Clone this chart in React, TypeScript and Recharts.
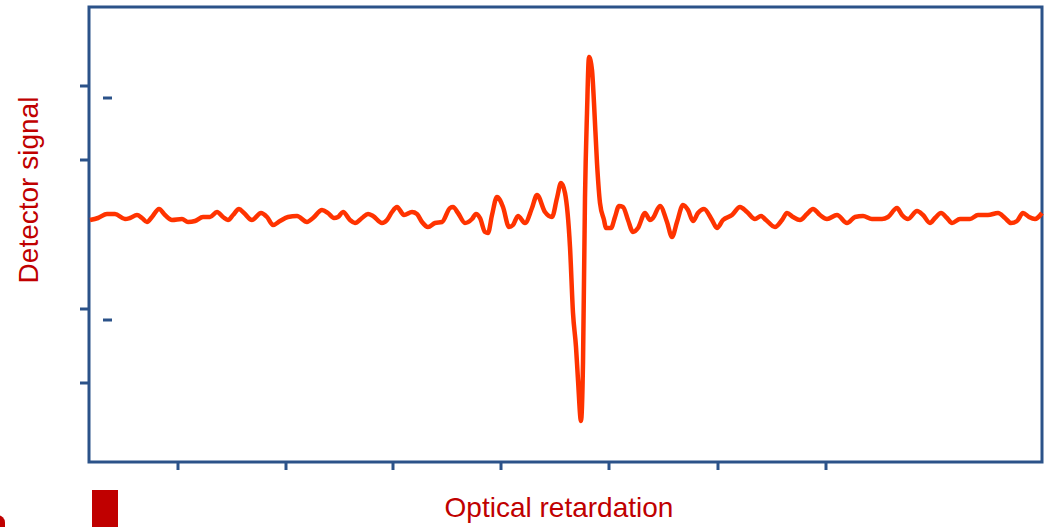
import React from "react";
import {
  LineChart,
  Line,
  XAxis,
  YAxis,
  ReferenceArea,
  ReferenceLine,
} from "recharts";

// interferogram trace (arbitrary units)
const retardation = [
  1, 9, 18, 26, 36, 41, 48, 53, 58, 63, 70, 76, 83, 93, 99, 106, 114, 121, 128, 134,
  139, 144, 150, 155, 163, 172, 178, 184, 191, 199, 208, 218, 224, 233, 239, 245, 249, 254, 261, 266,
  273, 279, 284, 293, 298, 303, 308, 315, 323, 328, 333, 339, 346, 353, 361, 364, 369, 376, 383, 387,
  391, 396, 399, 403, 408, 414, 420, 424, 429, 436, 443, 448, 456, 463, 468, 472, 476, 481, 484, 487,
  489, 492, 494, 496, 498, 500, 503, 505, 508, 511, 515, 517, 522, 526, 530, 534, 539, 544, 549, 556,
  561, 564, 571, 578, 583, 588, 594, 599, 604, 609, 615, 623, 628, 634, 643, 651, 658, 666, 672, 677,
  686, 693, 698, 704, 711, 718, 724, 731, 738, 748, 758, 766, 774, 783, 793, 799, 808, 813, 819, 828,
  834, 841, 846, 852, 858, 863, 871, 881, 889, 899, 909, 916, 922, 928, 934, 940, 946, 953,
];

const signal = [
  242, 244, 248, 248, 243, 244, 247, 244, 240, 245, 253, 247, 242, 243, 240, 241, 245, 245, 250, 245,
  242, 247, 253, 249, 242, 249, 245, 237, 241, 245, 246, 240, 244, 252, 249, 244, 245, 250, 242, 239,
  244, 248, 246, 239, 242, 250, 255, 247, 250, 248, 240, 235, 239, 240, 254, 255, 249, 239, 243, 248,
  244, 230, 229, 247, 265, 255, 235, 237, 246, 239, 254, 267, 250, 245, 264, 279, 269, 215, 149, 115,
  82, 41, 99, 265, 349, 405, 392, 359, 299, 259, 242, 234, 234, 245, 256, 255, 242, 230, 234, 249,
  242, 244, 256, 240, 225, 240, 257, 252, 241, 249, 253, 242, 234, 242, 247, 255, 250, 243, 246, 242,
  235, 242, 249, 245, 242, 248, 253, 247, 243, 247, 239, 245, 246, 243, 243, 245, 254, 247, 243, 251,
  247, 239, 244, 249, 244, 239, 243, 243, 247, 247, 249, 244, 239, 241, 249, 245, 243, 249,
];

const xTicks = [89, 197, 304, 412, 520, 629, 737];
const yTicks = [79, 153, 302, 376];
const markLevels = [364, 142];

const AXIS = "#2B5289";
const TRACE = "#FF3300";
const LABEL = "#C00000";

const data = retardation.map((x, i) => ({ x, y: signal[i] }));

export default function App() {
  return (
    <div
      style={{
        position: "absolute",
        left: 0,
        top: 0,
        width: 1052,
        height: 527,
        overflow: "hidden",
        fontFamily: "'Liberation Sans', Arial, sans-serif",
        background: "#fff",
      }}
    >
      <LineChart
        width={1052}
        height={527}
        data={data}
        margin={{ top: 7, right: 10, left: 0, bottom: 0 }}
        style={{ overflow: "visible" }}
      >
        <XAxis
          dataKey="x"
          type="number"
          domain={[0, 953]}
          ticks={xTicks}
          height={65}
          axisLine={false}
          tickSize={8}
          tickLine={{ stroke: AXIS, strokeWidth: 3 }}
          tickFormatter={() => ""}
        />
        <YAxis
          type="number"
          domain={[0, 455]}
          ticks={yTicks}
          width={89}
          axisLine={false}
          tickSize={9}
          tickLine={{ stroke: AXIS, strokeWidth: 3 }}
          tickFormatter={() => ""}
        />
        <ReferenceArea
          x1={0}
          x2={953}
          y1={0}
          y2={455}
          fill="none"
          stroke={AXIS}
          strokeWidth={3}
          ifOverflow="visible"
        />
        {markLevels.map((lv) => (
          <ReferenceLine
            key={lv}
            segment={[
              { x: 14, y: lv },
              { x: 23, y: lv },
            ]}
            stroke={AXIS}
            strokeWidth={3}
          />
        ))}
        <Line
          type="monotone"
          dataKey="y"
          stroke={TRACE}
          strokeWidth={4.5}
          dot={false}
          isAnimationActive={false}
        />
      </LineChart>

      <div
        style={{
          position: "absolute",
          left: 29 - 150,
          top: 190 - 14,
          width: 300,
          height: 28,
          lineHeight: "28px",
          fontSize: 28,
          color: LABEL,
          textAlign: "center",
          transform: "rotate(-90deg)",
          whiteSpace: "nowrap",
        }}
      >
        Detector signal
      </div>
      <div
        style={{
          position: "absolute",
          left: 559 - 200,
          top: 494,
          width: 400,
          lineHeight: "28px",
          fontSize: 28,
          color: LABEL,
          textAlign: "center",
          whiteSpace: "nowrap",
        }}
      >
        Optical retardation
      </div>
      <div
        style={{
          position: "absolute",
          left: 92,
          top: 490,
          width: 26,
          height: 40,
          background: LABEL,
        }}
      />
      <div
        style={{
          position: "absolute",
          left: -10,
          top: 515,
          width: 15,
          height: 20,
          borderRadius: 8,
          background: LABEL,
        }}
      />
    </div>
  );
}
